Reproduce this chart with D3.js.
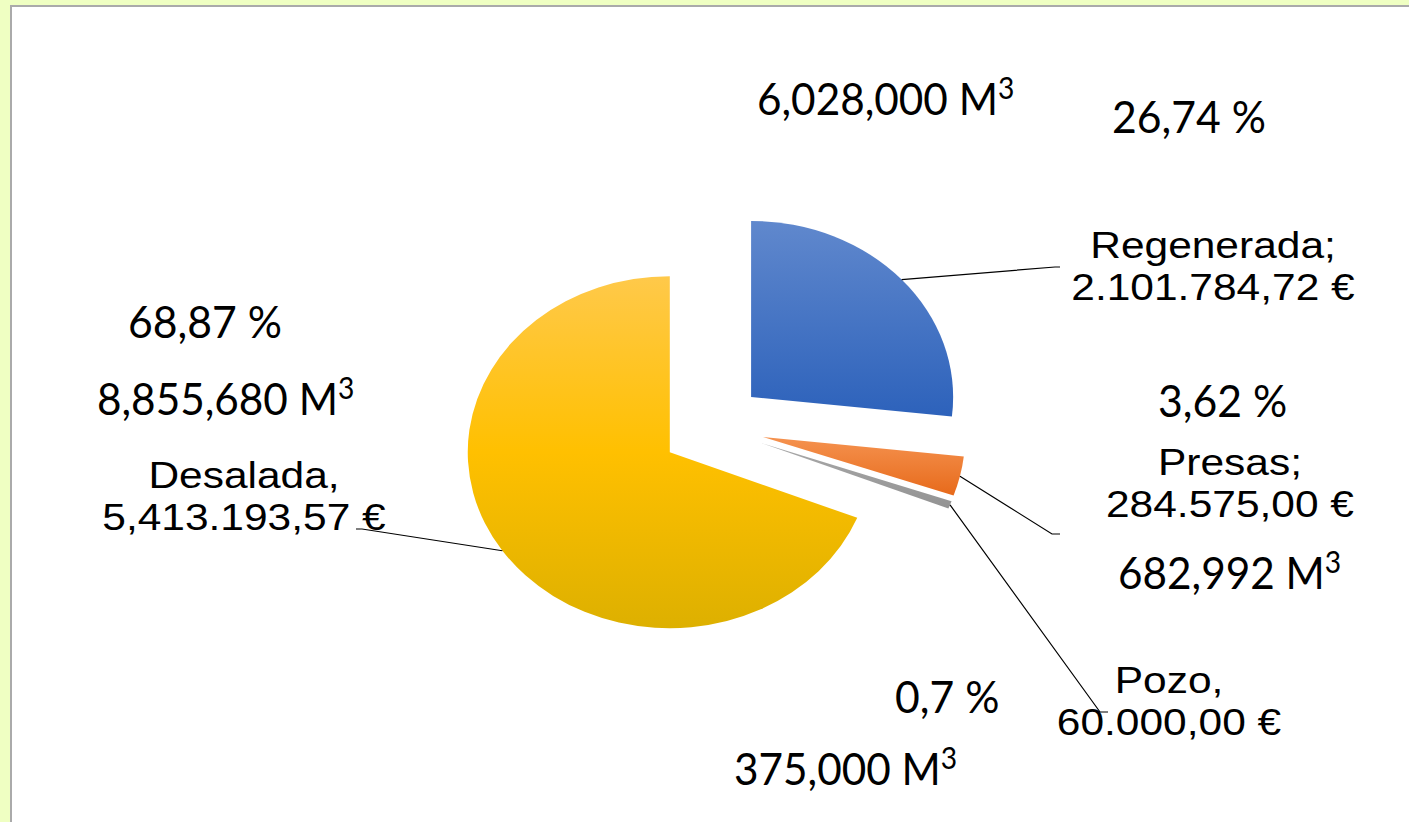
<!DOCTYPE html>
<html>
<head>
<meta charset="utf-8">
<script src="https://cdn.jsdelivr.net/npm/d3@7"></script>
<style>
  body { margin: 0; background: #efffc2; }
  svg { display: block; }
</style>
</head>
<body>
<svg width="1409" height="822"></svg>
<script>
// data
var categories = ["Regenerada", "Presas", "Pozo", "Desalada"];
var separators = [";", ";", ",", ","];
var percents = [26.74, 3.62, 0.7, 68.87];
var percentText = ["26,74 %", "3,62 %", "0,7 %", "68,87 %"];
var euroText = ["2.101.784,72 €", "284.575,00 €", "60.000,00 €", "5,413.193,57 €"];
var volumeText = ["6,028,000 M", "682,992 M", "375,000 M", "8,855,680 M"];

// layout (label anchors, px)
var nameLabelPos = [[1213, 258], [1230, 475], [1169, 693], [244, 488]];
var leaderEnd = [[[1055, 267], [1060, 267]], [[1052, 534], [1060, 534]], [[1100, 712], [1108, 712]], [[362, 529], [356, 529]]];
var pctLabelPos = [[1112, 133], [1158, 417], [895, 713], [128, 338]];
var volLabelPos = [[757, 115], [1118, 589], [734, 785], [97, 415]];

var width = 1409, height = 822;
var cx = 712.6, cy = 427, radius = 176, stretch = 1.148, explode = 45;

var gradients = [
    ["#6088cd", "#2d62bb"],
    ["#f5924f", "#e76a1b"],
    ["#a9a9a9", "#939393"],
    ["#ffc94a", "#ffc000", "#ddb000"]
];

const svg = d3.select("svg");

// white panel with grey top/left edge
svg.append("rect")
    .attr("x", 10).attr("y", 5)
    .attr("width", width).attr("height", height)
    .attr("fill", "#aaaaaa");
svg.append("rect")
    .attr("x", 12).attr("y", 7)
    .attr("width", width).attr("height", height)
    .attr("fill", "#ffffff");

var defs = svg.append("defs");
gradients.forEach(function(stops, i) {
    var g = defs.append("linearGradient")
        .attr("id", "grad" + i)
        .attr("x1", 0).attr("y1", 0).attr("x2", 0).attr("y2", 1);
    stops.forEach(function(c, j) {
        g.append("stop")
            .attr("offset", j / (stops.length - 1))
            .attr("stop-color", c);
    });
});

var pie = d3.pie().sort(null).value(function(d) { return d; });
var arcs = pie(percents);
var arc = d3.arc().innerRadius(0).outerRadius(radius);

function midAngle(d) { return (d.startAngle + d.endAngle) / 2; }
// offset of an exploded slice (unstretched)
function offset(d) {
    var a = midAngle(d);
    return [Math.sin(a) * explode, -Math.cos(a) * explode];
}
// page point at angle/radius for a slice
function pagePoint(d, a, r) {
    var o = offset(d);
    return [cx + (o[0] + Math.sin(a) * r) * stretch, cy + o[1] - Math.cos(a) * r];
}

var pieG = svg.append("g")
    .attr("transform", "translate(" + cx + "," + cy + ") scale(" + stretch + ",1)");

pieG.selectAll("path")
    .data(arcs)
    .enter().append("path")
    .attr("d", arc)
    .attr("fill", function(d, i) { return "url(#grad" + i + ")"; })
    .attr("transform", function(d) { var o = offset(d); return "translate(" + o[0] + "," + o[1] + ")"; });

// leader lines
var line = d3.line();
svg.append("g").selectAll("path")
    .data(arcs)
    .enter().append("path")
    .attr("d", function(d, i) {
        var start = pagePoint(d, midAngle(d), radius);
        return line([start].concat(leaderEnd[i]));
    })
    .attr("fill", "none")
    .attr("stroke", "#000")
    .attr("stroke-width", 1.2);

// category labels (Arial look, stretched like the pie)
var nameG = svg.append("g")
    .attr("font-family", "Liberation Sans, Arial, sans-serif")
    .attr("font-size", 37)
    .attr("fill", "#000");
categories.forEach(function(c, i) {
    var t = nameG.append("text")
        .attr("text-anchor", "middle")
        .attr("transform", "translate(" + nameLabelPos[i][0] + "," + nameLabelPos[i][1] + ") scale(" + stretch + ",1)");
    t.append("tspan").attr("x", 0).attr("y", 0).text(c + separators[i]);
    t.append("tspan").attr("x", 0).attr("y", 42).text(euroText[i]);
});

// percentage and volume labels
var bigG = svg.append("g")
    .attr("font-family", "Lato, sans-serif")
    .attr("font-size", 45)
    .attr("fill", "#000");
percentText.forEach(function(p, i) {
    bigG.append("text")
        .attr("transform", "translate(" + pctLabelPos[i][0] + "," + pctLabelPos[i][1] + ") scale(0.95,1)")
        .text(p);
});
volumeText.forEach(function(v, i) {
    var t = bigG.append("text")
        .attr("transform", "translate(" + volLabelPos[i][0] + "," + volLabelPos[i][1] + ") scale(0.94,1)");
    t.append("tspan").text(v);
    t.append("tspan").attr("font-size", 30).attr("dy", -16).text("3");
});
</script>
</body>
</html>
